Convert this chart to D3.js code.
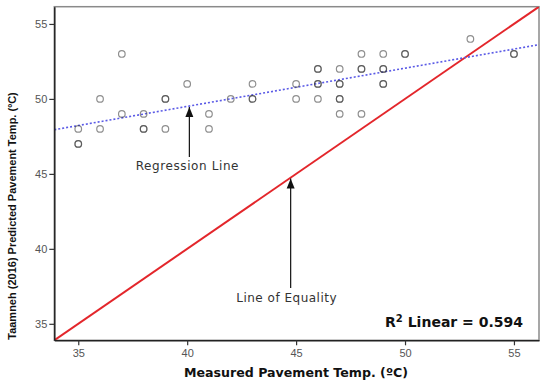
<!DOCTYPE html>
<html><head><meta charset="utf-8">
<script src="https://cdn.jsdelivr.net/npm/d3@7"></script>
<style>body{margin:0;background:#fff}svg{display:block}</style>
</head><body>
<svg id="c" width="550" height="384"></svg>
<script>
// ---- data ----
const measured  = [35,35,35,36,36,37,37,38,38,38,39,39,39,40,41,41,42,43,43,43,45,45,46,46,46,46,46,47,47,47,47,47,47,48,48,48,48,49,49,49,49,49,50,50,53,55,55];
const predicted = [48,47,47,50,48,53,49,49,48,48,50,50,48,51,49,48,50,51,50,50,51,50,52,52,51,51,50,52,51,51,50,50,49,53,52,52,49,53,52,52,51,51,53,53,54,53,53];
const xTicks = [35,40,45,50,55];
const yTicks = [35,40,45,50,55];
const regIntercept = [39.3];
const regSlope = [0.255];
const r2Label = ["0.594"];
const xTitle = "Measured Pavement Temp. (ºC)";
const yTitle = "Taamneh (2016) Predicted Pavement Temp. (ºC)";

// ---- layout ----
const svg = d3.select("#c");
const L = 54.3, R = 539, T = 6.7, B = 340.3;
const dom = [33.9, 56.15];
const x = d3.scaleLinear().domain(dom).range([L, R]);
const y = d3.scaleLinear().domain(dom).range([B, T]);

const defs = svg.append("defs");
defs.append("marker").attr("id","ah").attr("viewBox","0 0 10 10").attr("refX",10).attr("refY",5)
  .attr("markerWidth",10).attr("markerHeight",10).attr("markerUnits","userSpaceOnUse").attr("orient","auto")
  .append("path").attr("d","M0,1 L10,5 L0,9 Z").attr("fill","#111");

// frame (top/right grey)
svg.append("rect").attr("x",L).attr("y",T).attr("width",R-L).attr("height",B-T)
  .attr("fill","none").attr("stroke","#8a8a8a").attr("stroke-width",1.5);

// clip
defs.append("clipPath").attr("id","clip").append("rect").attr("x",L).attr("y",T).attr("width",R-L).attr("height",B-T);
const g = svg.append("g").attr("clip-path","url(#clip)");

// line of equality
g.append("line").attr("x1",x(dom[0])).attr("y1",y(dom[0])).attr("x2",x(dom[1])).attr("y2",y(dom[1]))
  .attr("stroke","#e3262b").attr("stroke-width",2);

// regression line
const rf = v => regIntercept[0] + regSlope[0]*v;
g.append("line").attr("x1",x(dom[0])).attr("y1",y(rf(dom[0]))).attr("x2",x(dom[1])).attr("y2",y(rf(dom[1])))
  .attr("stroke","#5a5ae6").attr("stroke-width",1.6).attr("stroke-dasharray","2,2");

// points
g.selectAll("circle.p").data(measured.map((m,i)=>[m,predicted[i]])).join("circle")
  .attr("class","p").attr("cx",d=>x(d[0])).attr("cy",d=>y(d[1])).attr("r",3.3)
  .attr("fill","none").attr("stroke","#333").attr("stroke-opacity",0.55).attr("stroke-width",1.2);

// axes
const xa = svg.append("g").attr("transform",`translate(0,${B})`)
  .call(d3.axisBottom(x).tickValues(xTicks).tickSize(5).tickSizeOuter(0).tickPadding(4));
const ya = svg.append("g").attr("transform",`translate(${L},0)`)
  .call(d3.axisLeft(y).tickValues(yTicks).tickSize(5).tickSizeOuter(0).tickPadding(2));
[xa,ya].forEach(a=>{
  a.select(".domain").attr("stroke","#222").attr("stroke-width",1.5);
  a.selectAll(".tick line").attr("stroke","#333").attr("stroke-width",1.2);
  a.selectAll(".tick text").attr("fill","#555").attr("font-family","Liberation Sans, Arial, sans-serif").attr("font-size",11);
});

// titles
svg.append("text").attr("x",296).attr("y",377).attr("text-anchor","middle")
  .attr("font-family","DejaVu Sans, Verdana, sans-serif").attr("font-weight","bold").attr("font-size",12.6)
  .attr("fill","#111").text(xTitle);
svg.append("text").attr("transform",`translate(16,216) rotate(-90)`).attr("text-anchor","middle")
  .attr("font-family","Liberation Sans, Arial, sans-serif").attr("font-weight","bold").attr("font-size",11)
  .attr("fill","#111").text(yTitle);

// R2 label
const rt = svg.append("text").attr("x",523).attr("y",327).attr("text-anchor","end")
  .attr("font-family","DejaVu Sans, Verdana, sans-serif").attr("font-weight","bold").attr("font-size",14).attr("fill","#111");
rt.append("tspan").text("R");
rt.append("tspan").attr("font-size",10).attr("dy",-5).text("2");
rt.append("tspan").attr("dy",5).text(" Linear = " + r2Label[0]);

// annotations
const ax1 = 40.1;
svg.append("line").attr("x1",x(ax1)).attr("y1",157).attr("x2",x(ax1)).attr("y2",y(rf(ax1))+1)
  .attr("stroke","#111").attr("stroke-width",1.2).attr("marker-end","url(#ah)");
svg.append("text").attr("x",x(ax1)-2).attr("y",169.5).attr("text-anchor","middle")
  .attr("font-family","DejaVu Sans, Verdana, sans-serif").attr("font-size",12).attr("letter-spacing",0.6).attr("fill","#333").text("Regression Line");
const ax2 = 44.75;
svg.append("line").attr("x1",x(ax2)).attr("y1",288).attr("x2",x(ax2)).attr("y2",y(ax2)+1)
  .attr("stroke","#111").attr("stroke-width",1.2).attr("marker-end","url(#ah)");
svg.append("text").attr("x",x(ax2)-4).attr("y",302).attr("text-anchor","middle")
  .attr("font-family","DejaVu Sans, Verdana, sans-serif").attr("font-size",12).attr("letter-spacing",0.5).attr("fill","#333").text("Line of Equality");
</script>
</body></html>
